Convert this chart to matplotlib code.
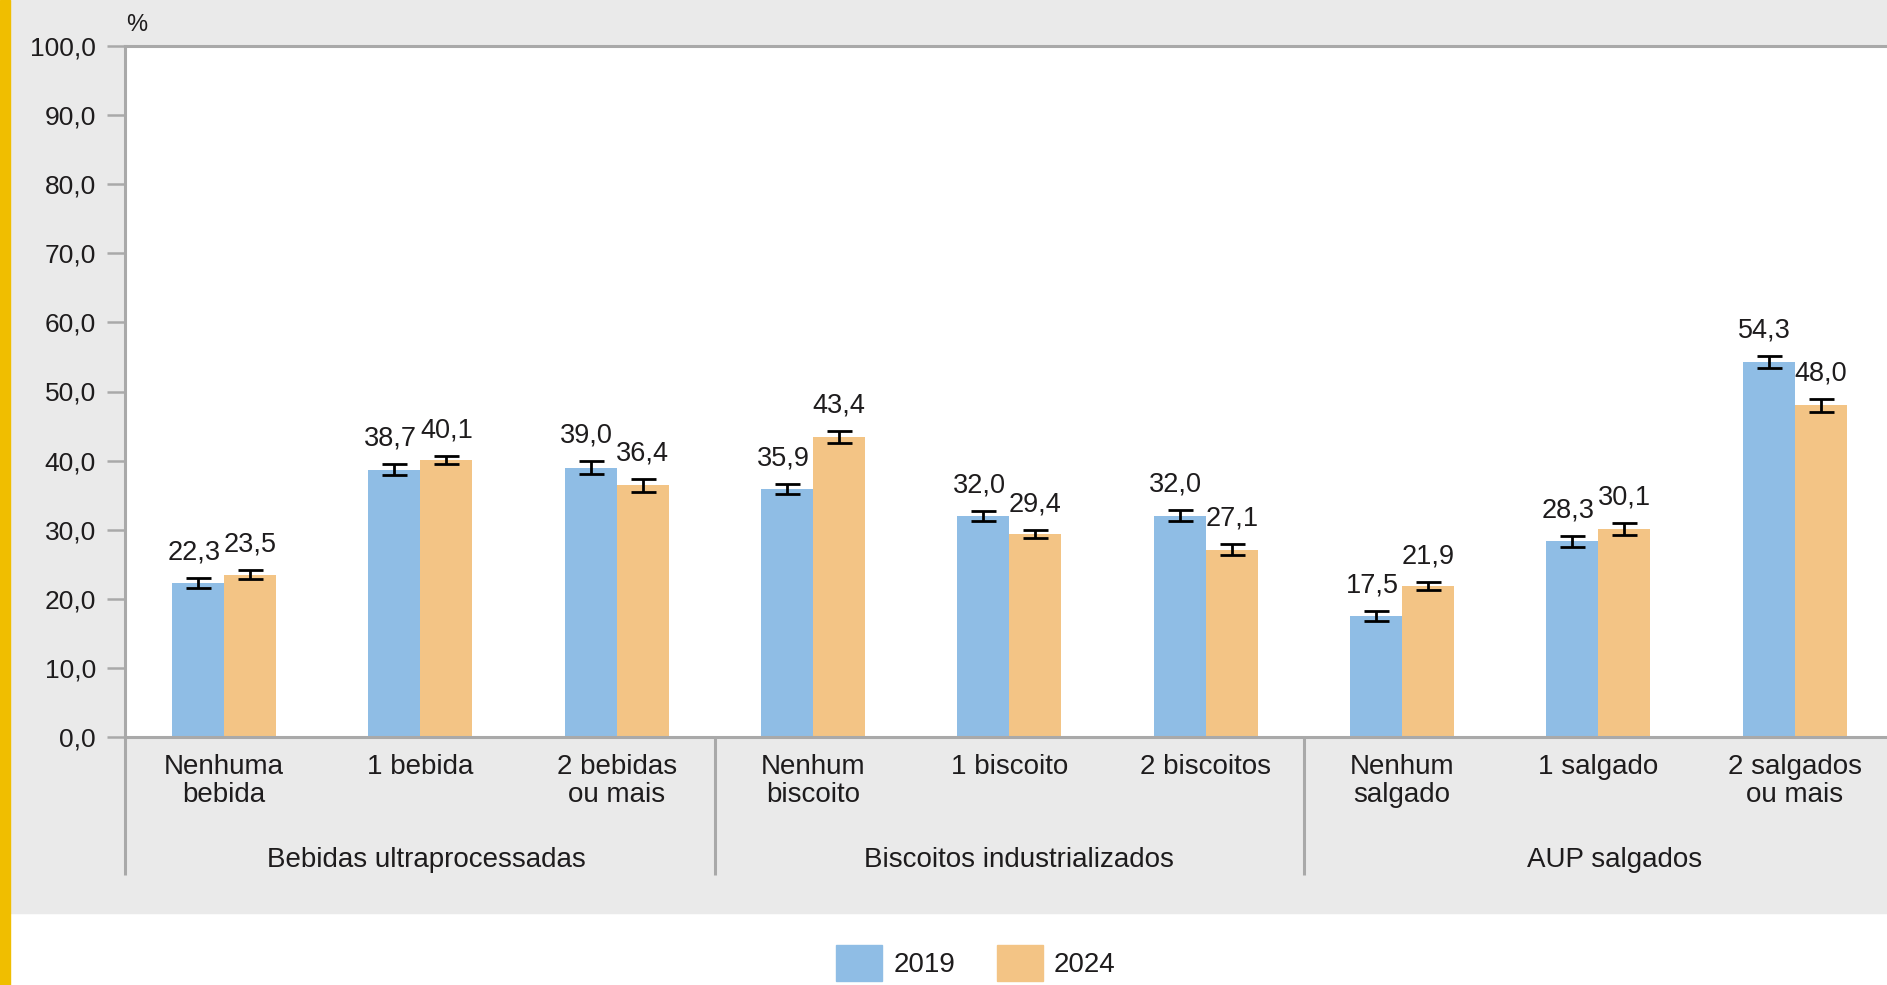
#!/usr/bin/env python3
import matplotlib
matplotlib.use('Agg')
import matplotlib.pyplot as plt
import matplotlib.transforms as mtransforms
from matplotlib.patches import Rectangle, Patch
import numpy as np

# Data
categories = ['Nenhuma\nbebida', '1 bebida', '2 bebidas\nou mais',
              'Nenhum\nbiscoito', '1 biscoito', '2 biscoitos',
              'Nenhum\nsalgado', '1 salgado', '2 salgados\nou mais']
groups = ['Bebidas ultraprocessadas', 'Biscoitos industrializados', 'AUP salgados']
values_2019 = [22.3, 38.7, 39.0, 35.9, 32.0, 32.0, 17.5, 28.3, 54.3]
values_2024 = [23.5, 40.1, 36.4, 43.4, 29.4, 27.1, 21.9, 30.1, 48.0]
err_2019 = [0.7, 0.8, 0.9, 0.7, 0.7, 0.8, 0.7, 0.8, 0.9]
err_2024 = [0.7, 0.6, 1.0, 0.9, 0.6, 0.8, 0.6, 0.8, 0.9]
series_labels = ['2019', '2024']

blue = '#8FBDE5'
orange = '#F3C485'
grey_bg = '#EAEAEA'
line_grey = '#A9A9A9'
text_col = '#1E1C1D'

plt.rcParams['font.family'] = ['Liberation Sans', 'DejaVu Sans']

W, H = 1887, 985
fig = plt.figure(figsize=(W / 100, H / 100), dpi=100, facecolor='white')

# grey panel and yellow strip on the left
fig.patches.append(Rectangle((10 / W, (H - 913) / H), 1 - 10 / W, 913 / H,
                             transform=fig.transFigure, color=grey_bg, zorder=-10))
fig.patches.append(Rectangle((0, 0), 10 / W, 1, transform=fig.transFigure,
                             color='#F0BE00', zorder=-10))

left, top, bottom = 125, 46, 737
ax = fig.add_axes([left / W, (H - bottom) / H, 1 - left / W, (bottom - top) / H])
ax.set_facecolor('white')

x = np.arange(len(categories))
w = 0.265
ekw = dict(ecolor='black', elinewidth=2.0, capsize=9, capthick=2.0)
ax.bar(x - w / 2, values_2019, w, color=blue, yerr=err_2019, error_kw=ekw, zorder=2)
ax.bar(x + w / 2, values_2024, w, color=orange, yerr=err_2024, error_kw=ekw, zorder=2)

# value labels; the 2019 ones sit a touch to the left like in the source
for xs, vals, errs, dx in [(x - w / 2, values_2019, err_2019, -3),
                           (x + w / 2, values_2024, err_2024, 0)]:
    for xi, v, e in zip(xs, vals, errs):
        ax.annotate(f'{v:.1f}'.replace('.', ','), (xi, v + e), xytext=(dx, 9),
                    textcoords='offset points', ha='center', va='bottom',
                    fontsize=19.5, color=text_col)

ax.set_xlim(-0.505, 8.47)
ax.set_ylim(0, 100)
ax.set_yticks(np.arange(0, 101, 10))
ax.set_yticklabels([f'{t:.1f}'.replace('.', ',') for t in np.arange(0, 101, 10)])
ax.tick_params(axis='y', length=13, width=1.8, color=line_grey, pad=8,
               labelsize=19, labelcolor=text_col)
ax.set_xticks(x)
ax.set_xticklabels(categories, fontsize=20, color=text_col, linespacing=1.1)
ax.tick_params(axis='x', length=0, pad=12)

for s in ['left', 'bottom', 'top']:
    ax.spines[s].set_color(line_grey)
    ax.spines[s].set_linewidth(2.2)
ax.spines['right'].set_visible(False)

# group separators and left axis extension below the plot
trans = mtransforms.blended_transform_factory(ax.transData, ax.transAxes)
for xv in [-0.505, 2.5, 5.5]:
    ax.plot([xv, xv], [0, -0.2], transform=trans, color=line_grey, lw=2.2,
            clip_on=False, solid_capstyle='butt')
for gx, g in zip([1.03, 4.05, 7.08], groups):
    ax.text(gx, -0.178, g, transform=trans, ha='center', va='center',
            fontsize=20, color=text_col)

fig.text(137 / W, (H - 25) / H, '%', ha='center', va='center', fontsize=17, color=text_col)

handles = [Patch(color=blue), Patch(color=orange)]
fig.legend(handles, series_labels, loc='center', bbox_to_anchor=(976 / W, (H - 963) / H),
           ncol=2, frameon=False, fontsize=20, handlelength=1.65, handleheight=1.6,
           handletextpad=0.4, columnspacing=1.5, labelcolor=text_col)

fig.savefig('out.png', dpi=100, facecolor=fig.get_facecolor())
